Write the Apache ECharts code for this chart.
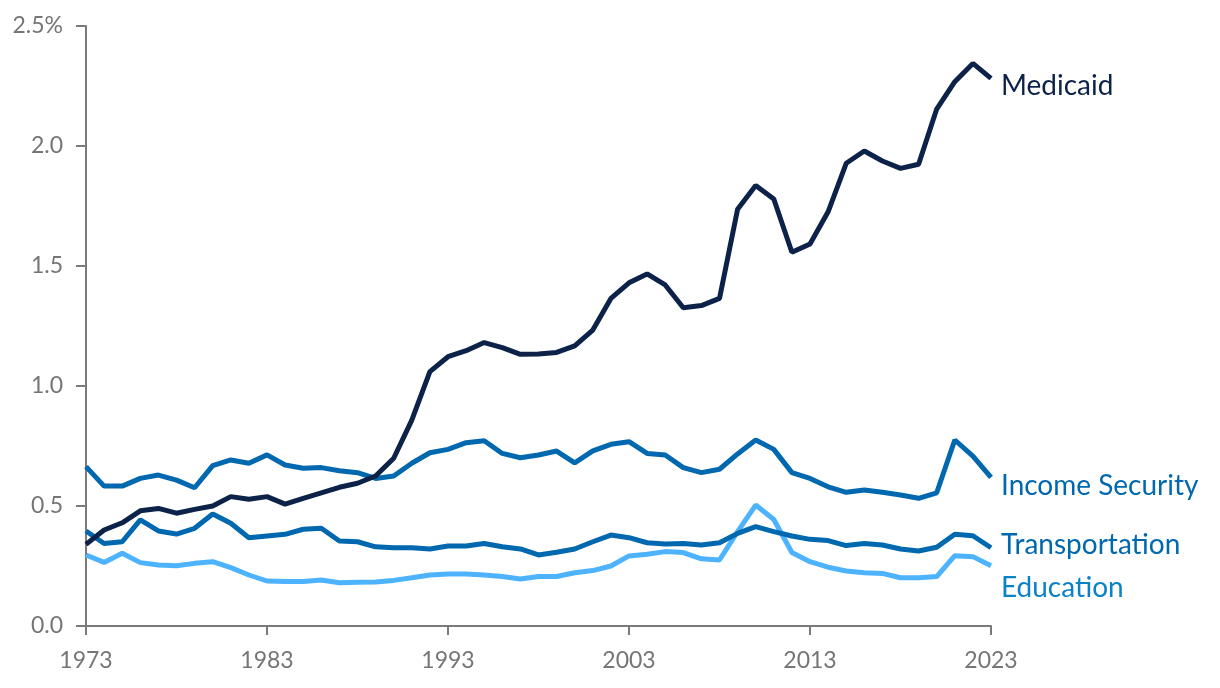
<!DOCTYPE html>
<html>
<head>
<meta charset="utf-8">
<script src="https://cdn.jsdelivr.net/npm/echarts@6/dist/echarts.min.js"></script>
<style>
html,body{margin:0;padding:0;background:#fff;}
#chart{width:1220px;height:688px;}
</style>
</head>
<body>
<div id="chart"></div>
<script>
var years = [];
for (var y = 1973; y <= 2023; y++) years.push(String(y));

var medicaid = [0.34,0.40,0.43,0.48,0.49,0.47,0.486,0.50,0.539,0.528,0.539,0.508,0.532,0.555,0.578,0.595,0.625,0.699,0.858,1.06,1.122,1.147,1.181,1.16,1.132,1.133,1.14,1.167,1.233,1.365,1.43,1.467,1.421,1.326,1.335,1.365,1.736,1.835,1.779,1.557,1.592,1.726,1.928,1.979,1.9375,1.907,1.924,2.154,2.268,2.344,2.282];
var incomeSecurity = [0.664,0.583,0.583,0.615,0.629,0.608,0.576,0.668,0.692,0.678,0.713,0.671,0.657,0.66,0.647,0.639,0.615,0.625,0.678,0.722,0.736,0.764,0.772,0.719,0.701,0.7125,0.729,0.68,0.73,0.757,0.768,0.719,0.7125,0.66,0.639,0.653,0.717,0.775,0.736,0.639,0.615,0.58,0.557,0.567,0.557,0.546,0.532,0.555,0.775,0.708,0.619];
var transportation = [0.396,0.344,0.351,0.442,0.396,0.383,0.407,0.467,0.428,0.368,0.375,0.382,0.403,0.407,0.354,0.351,0.33,0.326,0.326,0.321,0.333,0.333,0.344,0.33,0.321,0.296,0.307,0.321,0.351,0.379,0.368,0.347,0.342,0.344,0.3375,0.347,0.386,0.414,0.393,0.375,0.361,0.356,0.335,0.344,0.3375,0.321,0.3125,0.328,0.382,0.376,0.326];
var education = [0.296,0.265,0.303,0.264,0.254,0.251,0.261,0.268,0.243,0.2125,0.1875,0.185,0.185,0.192,0.18,0.182,0.183,0.19,0.201,0.2125,0.217,0.217,0.2125,0.206,0.196,0.206,0.206,0.222,0.231,0.25,0.292,0.299,0.31,0.306,0.28,0.275,0.393,0.504,0.444,0.306,0.268,0.245,0.229,0.222,0.219,0.201,0.201,0.206,0.293,0.289,0.251];

var seriesNames = ['Medicaid','Income Security','Transportation','Education'];
var lineColors = ['#0c2249','#0068ae','#0068ae','#4db3ff'];
var labelColors = ['#0c2249','#0068ae','#0068ae','#0a82c8'];
var labelOffsets = [[0,8],[0,9],[0,-3],[0,22]];
var seriesData = [medicaid, incomeSecurity, transportation, education];

var chart = echarts.init(document.getElementById('chart'), null, {renderer:'canvas'});
var axisColor = '#7a7a7a';
var series = seriesData.map(function(d, i){
  return {
    name: seriesNames[i],
    type: 'line',
    data: d,
    symbol: 'none',
    z: 10 - i,
    lineStyle: {width: 5, color: lineColors[i]},
    itemStyle: {color: lineColors[i]},
    endLabel: {
      show: true,
      formatter: seriesNames[i],
      color: labelColors[i],
      fontFamily: 'Lato',
      fontSize: 28,
      distance: 10,
      offset: labelOffsets[i]
    }
  };
});
chart.setOption({
  animation: false,
  backgroundColor: '#fff',
  grid: {left: 86, right: 229, top: 26, bottom: 62, containLabel: false},
  xAxis: {
    type: 'category',
    data: years,
    boundaryGap: false,
    axisLine: {show: true, lineStyle: {color: axisColor, width: 2}},
    axisTick: {show: true, interval: 9, length: 9, lineStyle: {color: axisColor, width: 2}},
    axisLabel: {interval: 9, color: '#757575', fontFamily: 'Lato', fontSize: 23, margin: 23},
    splitLine: {show: false}
  },
  yAxis: {
    type: 'value',
    min: 0, max: 2.5, interval: 0.5,
    axisLine: {show: true, lineStyle: {color: axisColor, width: 2}},
    axisTick: {show: true, length: 10, lineStyle: {color: axisColor, width: 2}},
    axisLabel: {color: '#757575', fontFamily: 'Lato', fontSize: 23, margin: 23,
      formatter: function(v){ return v === 2.5 ? '2.5%' : v.toFixed(1); }},
    splitLine: {show: false}
  },
  series: series
});
</script>
</body>
</html>
